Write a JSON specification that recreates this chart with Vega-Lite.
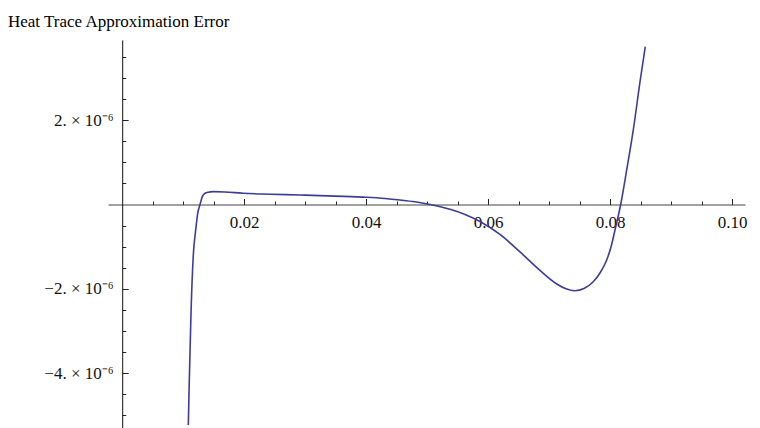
{
  "$schema": "https://vega.github.io/schema/vega-lite/v6.json",
  "width": 637,
  "height": 388,
  "autosize": {"type": "none"},
  "padding": {"left": 108, "top": 40, "right": 15, "bottom": 0},
  "background": "white",
  "title": {
    "text": "Heat Trace Approximation Error",
    "anchor": "start",
    "frame": "group",
    "dx": -100,
    "dy": 17,
    "offset": 13,
    "baseline": "alphabetic",
    "font": "Liberation Serif",
    "fontSize": 17,
    "fontWeight": "normal",
    "color": "#000000"
  },
  "config": {
    "view": {"stroke": null},
    "axis": {
      "grid": false,
      "title": null,
      "domainColor": "#444444",
      "domainWidth": 1,
      "tickColor": "#222222",
      "tickWidth": 1,
      "labelFont": "Liberation Serif",
      "labelFontSize": 17,
      "labelColor": "#111111",
      "labelFlush": false,
      "labelOverlap": false
    }
  },
  "data": {
    "values": [
      {"x": 0.010836, "y": -5.229e-6},
      {"x": 0.011, "y": -4.162e-6},
      {"x": 0.011279, "y": -2.573e-6},
      {"x": 0.011656, "y": -1.198e-6},
      {"x": 0.012049, "y": -0.605e-6},
      {"x": 0.012377, "y": -0.209e-6},
      {"x": 0.012754, "y": 0.0},
      {"x": 0.013131, "y": 0.185e-6},
      {"x": 0.013574, "y": 0.266e-6},
      {"x": 0.014066, "y": 0.292e-6},
      {"x": 0.014934, "y": 0.304e-6},
      {"x": 0.016852, "y": 0.296e-6},
      {"x": 0.019803, "y": 0.266e-6},
      {"x": 0.02423, "y": 0.244e-6},
      {"x": 0.029148, "y": 0.225e-6},
      {"x": 0.034885, "y": 0.199e-6},
      {"x": 0.040082, "y": 0.171e-6},
      {"x": 0.043082, "y": 0.142e-6},
      {"x": 0.045541, "y": 0.107e-6},
      {"x": 0.048, "y": 0.064e-6},
      {"x": 0.050459, "y": 0.0},
      {"x": 0.053738, "y": -0.114e-6},
      {"x": 0.056197, "y": -0.237e-6},
      {"x": 0.058656, "y": -0.403e-6},
      {"x": 0.061934, "y": -0.711e-6},
      {"x": 0.065213, "y": -1.126e-6},
      {"x": 0.068492, "y": -1.565e-6},
      {"x": 0.07123, "y": -1.885e-6},
      {"x": 0.072754, "y": -1.999e-6},
      {"x": 0.07423, "y": -2.044e-6},
      {"x": 0.075705, "y": -1.992e-6},
      {"x": 0.07718, "y": -1.838e-6},
      {"x": 0.078328, "y": -1.624e-6},
      {"x": 0.079426, "y": -1.316e-6},
      {"x": 0.080131, "y": -1.008e-6},
      {"x": 0.080787, "y": -0.605e-6},
      {"x": 0.081721, "y": 0.0},
      {"x": 0.082705, "y": 0.818e-6},
      {"x": 0.083787, "y": 1.767e-6},
      {"x": 0.084885, "y": 2.905e-6},
      {"x": 0.085754, "y": 3.742e-6}
    ]
  },
  "resolve": {"axis": {"x": "independent", "y": "independent"}},
  "layer": [
    {
      "mark": {"type": "line", "strokeOpacity": 0},
      "encoding": {
        "x": {
          "field": "x", "type": "quantitative",
          "scale": {"domain": [-0.00233, 0.1021], "nice": false, "zero": false},
          "axis": {
            "orient": "bottom", "offset": -223.5, "domain": false, "labels": false,
            "tickSize": -3.5,
            "values": [0.005, 0.01, 0.015, 0.025, 0.03, 0.035, 0.045, 0.05, 0.055, 0.065, 0.07, 0.075, 0.085, 0.09, 0.095]
          }
        },
        "y": {
          "field": "y", "type": "quantitative",
          "scale": {"domain": [-5.3e-6, 3.9e-6], "nice": false, "zero": false},
          "axis": {
            "orient": "left", "offset": -14.2, "domain": false, "labels": false,
            "tickSize": -3.5,
            "values": [-5e-6, -4.5e-6, -3.5e-6, -3e-6, -2.5e-6, -1.5e-6, -1e-6, -0.5e-6, 0.5e-6, 1e-6, 1.5e-6, 2.5e-6, 3e-6, 3.5e-6]
          }
        }
      }
    },
    {
      "mark": {"type": "line", "color": "#3d3d99", "strokeWidth": 1.6, "interpolate": "monotone"},
      "encoding": {
        "x": {
          "field": "x", "type": "quantitative",
          "scale": {"domain": [-0.00233, 0.1021], "nice": false, "zero": false},
          "axis": {
            "orient": "bottom", "offset": -223.5, "domain": true,
            "tickSize": -6, "labelPadding": 16,
            "labelFont": "Liberation Serif", "labelFontSize": 17,
            "values": [0.02, 0.04, 0.06, 0.08, 0.1],
            "labelExpr": "format(datum.value, '.2f')"
          }
        },
        "y": {
          "field": "y", "type": "quantitative",
          "scale": {"domain": [-5.3e-6, 3.9e-6], "nice": false, "zero": false},
          "axis": {
            "orient": "left", "offset": -14.2, "domain": true, "domainColor": "#111111",
            "tickSize": -6, "labelPadding": 15,
            "labelFont": "Liberation Serif", "labelFontSize": 17,
            "values": [-4e-6, -2e-6, 2e-6],
            "labelExpr": "(datum.value < 0 ? '−' : '') + round(abs(datum.value) * 1e6) + '. × 10⁻⁶'"
          }
        }
      }
    }
  ]
}
